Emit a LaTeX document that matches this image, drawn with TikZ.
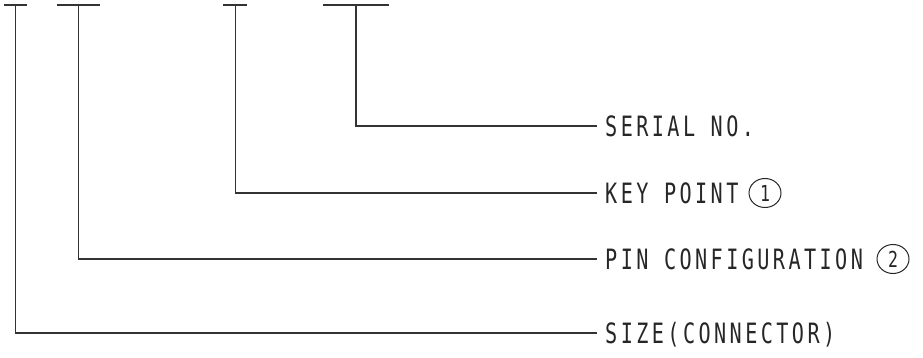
\documentclass[tikz,border=0pt]{standalone}
\usepackage{fontspec}
\usetikzlibrary{shapes.geometric}
\newfontfamily\cad{DejaVu Sans Mono}[LetterSpace=17]
\newfontfamily\cadnum{DejaVu Sans Mono}
\newcommand\sx[1]{\scalebox{0.72}[1]{#1}}
\begin{document}
\begin{tikzpicture}[x=1pt,y=-1pt,
  ln/.style={line width=1.2pt, draw=black!80},
  lbl/.style={anchor=west, inner sep=0pt, text height=20.4pt, text depth=0pt,
              font=\cad\fontsize{28}{28}\selectfont, text=black!85},
  circnum/.style={draw=black!85, line width=1pt, ellipse, inner sep=0pt,
              minimum width=32pt, minimum height=29pt, text=black!85,
              font=\cadnum\fontsize{22}{22}\selectfont}]
\useasboundingbox (0,0) rectangle (923,358);
% underline bars of the (cut-off) part number
\coordinate (b1l) at (4,5);   \coordinate (b1r) at (27,5);  \coordinate (b1m) at (15.5,5);
\coordinate (b2l) at (57,5);  \coordinate (b2r) at (100,5); \coordinate (b2m) at (78.5,5);
\coordinate (b3l) at (223,5); \coordinate (b3r) at (247,5); \coordinate (b3m) at (235.5,5);
\coordinate (b4l) at (323,5); \coordinate (b4r) at (389,5); \coordinate (b4m) at (356,5);
\draw[ln] (b1l) -- (b1r);
\draw[ln] (b2l) -- (b2r);
\draw[ln] (b3l) -- (b3r);
\draw[ln] (b4l) -- (b4r);
% labels
\node[lbl] (serial) at (605,126) {\sx{SERIAL NO.}};
\node[lbl] (key)    at (605,193) {\sx{KEY POINT}};
\node[circnum] (c1) at (765,193) {\scalebox{0.75}[1]{1}};
\node[lbl] (pin)    at (605,259) {\sx{PIN CONFIGURATION}};
\node[circnum] (c2) at (893,259) {\scalebox{0.75}[1]{2}};
\node[lbl] (size)   at (605,333) {\sx{SIZE(CONNECTOR)}};
% line ends
\coordinate (e4) at ([xshift=-8pt]serial.west);
\coordinate (e3) at ([xshift=-8pt]key.west);
\coordinate (e2) at ([xshift=-8pt]pin.west);
\coordinate (e1) at ([xshift=-8pt]size.west);
\draw[ln] (b4m) |- (e4);
\draw[ln] (b3m) |- (e3);
\draw[ln] (b2m) |- (e2);
\draw[ln] (b1m) |- (e1);
\end{tikzpicture}
\end{document}
